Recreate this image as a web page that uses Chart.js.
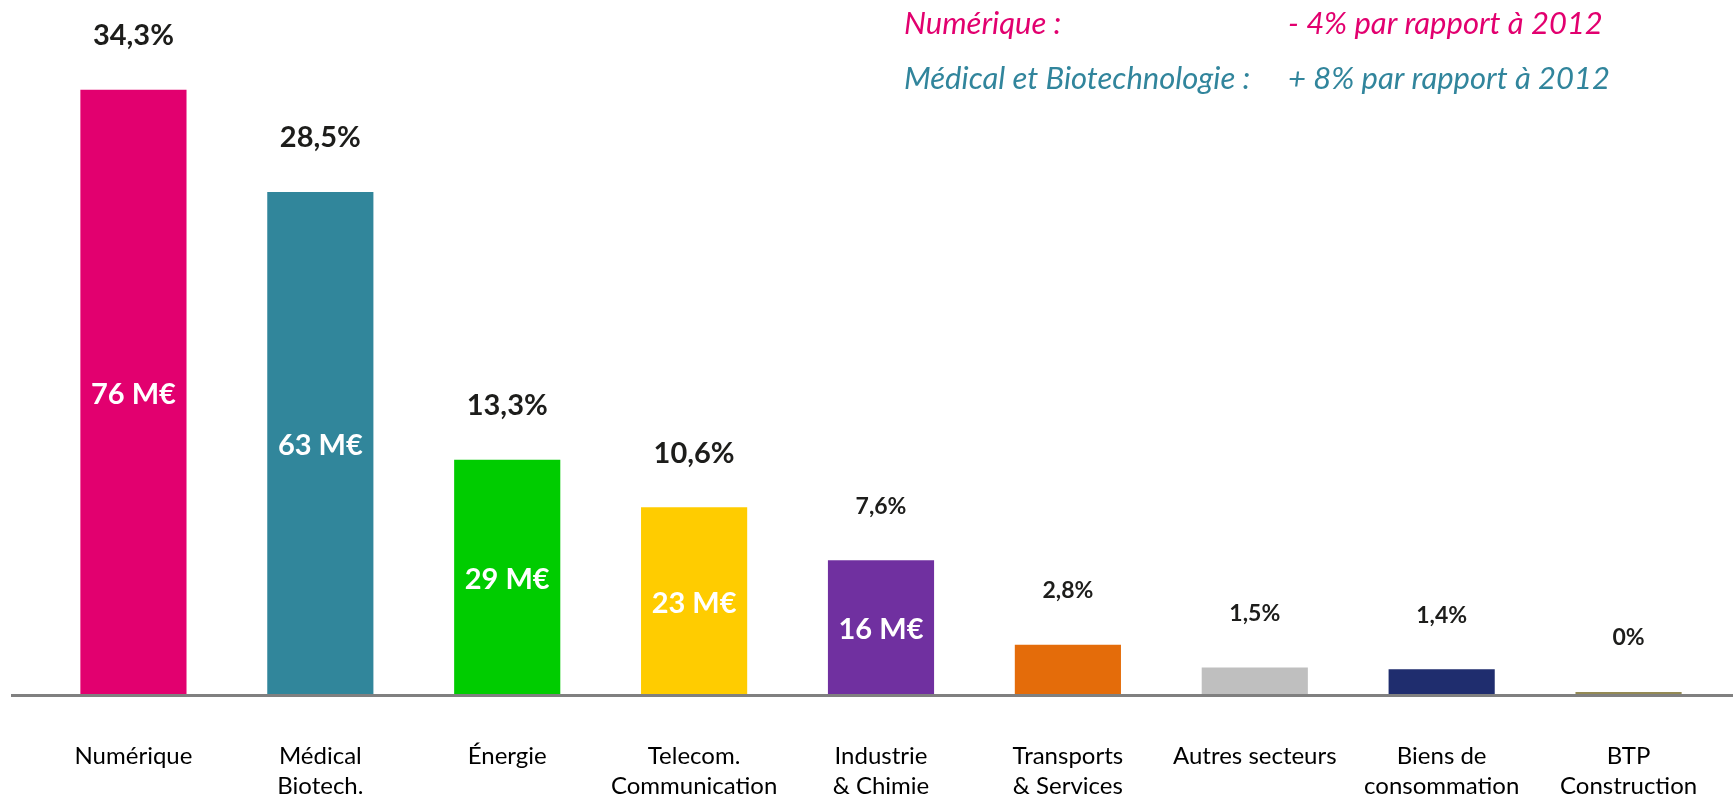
<!DOCTYPE html>
<html>
<head>
<meta charset="utf-8">
<script src="https://cdn.jsdelivr.net/npm/chart.js@4/dist/chart.umd.min.js"></script>
<style>
    body { margin: 0; background: #fff; }
    #conteneur { width: 1733px; height: 797px; position: relative; }
</style>
</head>
<body>
<div id="conteneur"><canvas id="graficoSecteurs"></canvas></div>
<script>
// Données
const secteurs = [
    'Numérique',
    ['Médical', 'Biotech.'],
    'Énergie',
    ['Telecom.', 'Communication'],
    ['Industrie', '& Chimie'],
    ['Transports', '& Services'],
    'Autres secteurs',
    ['Biens de', 'consommation'],
    ['BTP', 'Construction']
];
const pourcentages = [34.3, 28.5, 13.3, 10.6, 7.6, 2.8, 1.5, 1.4, 0];
const montantsME = [76, 63, 29, 23, 16, null, null, null, null];
const couleurs = ['#e2006f', '#31869b', '#00cc00', '#ffcc00', '#7030a0', '#e46c0a', '#bfbfbf', '#1f2d6e', '#948a54'];
const evolutions = [
    { nom: 'Numérique :', texte: '- 4% par rapport à 2012', couleur: '#e2006f' },
    { nom: 'Médical et Biotechnologie :', texte: '+ 8% par rapport à 2012', couleur: '#31859c' }
];

const fmtPct = v => String(v).replace('.', ',') + '%';

const etiquettes = {
    id: 'etiquettes',
    afterDatasetsDraw(chart) {
        const ctx = chart.ctx;
        const meta = chart.getDatasetMeta(0);
        const y0 = chart.scales.y.getPixelForValue(0);

        // ligne de base
        ctx.save();
        ctx.strokeStyle = '#808080';
        ctx.lineWidth = 3;
        ctx.beginPath();
        ctx.moveTo(11, y0 + 1.5);
        ctx.lineTo(chart.width, y0 + 1.5);
        ctx.stroke();

        ctx.textAlign = 'center';
        ctx.textBaseline = 'middle';
        meta.data.forEach((bar, i) => {
            const v = pourcentages[i];
            ctx.fillStyle = '#1d1d1b';
            ctx.font = 'bold ' + (v >= 10 ? 29 : 23) + 'px Lato';
            ctx.fillText(fmtPct(v), bar.x, bar.y - 54);
            if (montantsME[i] !== null) {
                ctx.fillStyle = '#ffffff';
                ctx.font = 'bold 29px Lato';
                ctx.fillText(montantsME[i] + ' M€', bar.x, (bar.y + y0) / 2 + 3);
            }
        });

        // évolutions par rapport à 2012
        ctx.textAlign = 'left';
        ctx.font = 'italic 31px Lato';
        evolutions.forEach((e, i) => {
            const y = 24 + i * 55;
            ctx.fillStyle = e.couleur;
            ctx.fillText(e.nom, 904, y);
            ctx.fillText(e.texte, 1288, y);
        });
        ctx.restore();
    }
};

new Chart(document.getElementById('graficoSecteurs'), {
    type: 'bar',
    data: {
        labels: secteurs,
        datasets: [{
            data: pourcentages,
            backgroundColor: couleurs,
            borderWidth: 0,
            barPercentage: 0.568,
            categoryPercentage: 1,
            minBarLength: 2
        }]
    },
    options: {
        responsive: true,
        maintainAspectRatio: false,
        animation: false,
        layout: { padding: { left: 40, right: 11, top: 0, bottom: 0 } },
        plugins: { legend: { display: false }, tooltip: { enabled: false } },
        scales: {
            x: {
                grid: { display: false, drawTicks: false },
                border: { display: false },
                ticks: {
                    color: '#000',
                    padding: 47,
                    maxRotation: 0,
                    autoSkip: false,
                    font: { family: 'Lato', size: 24, lineHeight: 1.25 }
                },
                afterFit: scale => {
                    scale.height = 103;
                    scale.paddingLeft = 0;
                    scale.paddingRight = 0;
                }
            },
            y: { display: false, min: 0, max: 39.4 }
        }
    },
    plugins: [etiquettes]
});
</script>
</body>
</html>
